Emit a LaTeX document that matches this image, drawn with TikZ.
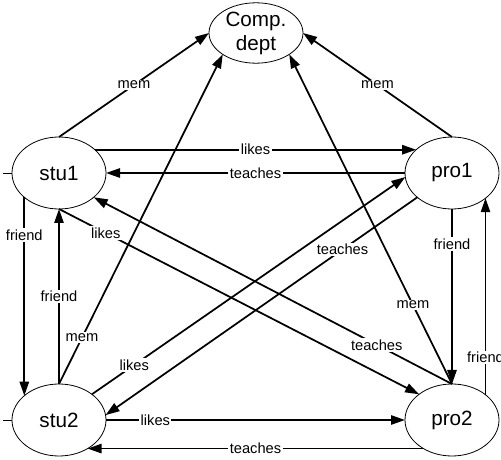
\documentclass[tikz,border=0pt]{standalone}
\usepackage{fontspec}
\setmainfont{Liberation Sans}
\usetikzlibrary{arrows.meta,shapes.geometric}

\begin{document}
\begin{tikzpicture}[x=0.75pt, y=-0.75pt,
  ent/.style={draw, ellipse, line width=0.6pt, inner sep=0pt, outer sep=0pt,
    minimum width=70.5pt, minimum height=54pt, align=center,
    font=\fontsize{15.5}{18}\selectfont},
  rel/.style={-{Triangle[length=10.5pt,width=7pt]}, line width=1.3pt},
  lbl/.style={fill=white, inner sep=1pt, font=\fontsize{11}{13}\selectfont}]
  \useasboundingbox (0,0) rectangle (501,460);
  % the five entities
  \node[ent, minimum height=42pt] (comp) at (256,33) {Comp.\\dept};
  \node[ent] (stu1) at (59,173) {stu1};
  \node[ent] (pro1) at (452,173) {pro1};
  \node[ent] (stu2) at (59,420) {stu2};
  \node[ent] (pro2) at (452,420) {pro2};
  \draw[line width=0.6pt] (stu1.west) -- ++(-9,0);
  \draw[line width=0.6pt] (stu2.west) -- ++(-9,0);
  % membership
  \draw[rel] (stu1.north) -- (comp.west) node[lbl, pos=0.5] {mem};
  \draw[rel] (pro1.north) -- (comp.east) node[lbl, pos=0.5] {mem};
  \draw[rel] (stu2.north) -- (comp.south west) node[lbl, pos=0.14] {mem};
  \draw[rel] (pro2.north) -- (comp.south east) node[lbl, pos=0.24] {mem};
  % top row
  \draw[rel] (stu1.33) -- (pro1.147) node[lbl, pos=0.5] {likes};
  \draw[rel] (pro1.west) -- (stu1.east) node[lbl, pos=0.5] {teaches};
  % left column
  \draw[rel] (stu1.215) -- (stu2.145) node[lbl, pos=0.19] {friend};
  \draw[rel] (stu2.north) -- (stu1.south) node[lbl, pos=0.5] {friend};
  % diagonals
  \draw[rel] (stu1.south) -- (pro2.142) node[lbl, pos=0.13] {likes};
  \draw[rel] (pro2.north) -- (stu1.-35) node[lbl, pos=0.21] {teaches};
  \draw[rel] (stu2.38) -- (pro1.185) node[lbl, pos=0.135] {likes};
  \draw[rel] (pro1.215) -- (stu2.6) node[lbl, pos=0.24] {teaches};
  % right column
  \draw[rel] (pro1.south) -- (pro2.north) node[lbl, pos=0.2] {friend};
  \draw[rel] (pro2.37) -- (pro1.-37) node[lbl, pos=0.19] {friend};
  % bottom row
  \draw[rel] (stu2.east) -- (pro2.west) node[lbl, pos=0.165] {likes};
  \draw[rel] (pro2.-135) -- (stu2.-45) node[lbl, pos=0.5] {teaches};
\end{tikzpicture}
\end{document}
